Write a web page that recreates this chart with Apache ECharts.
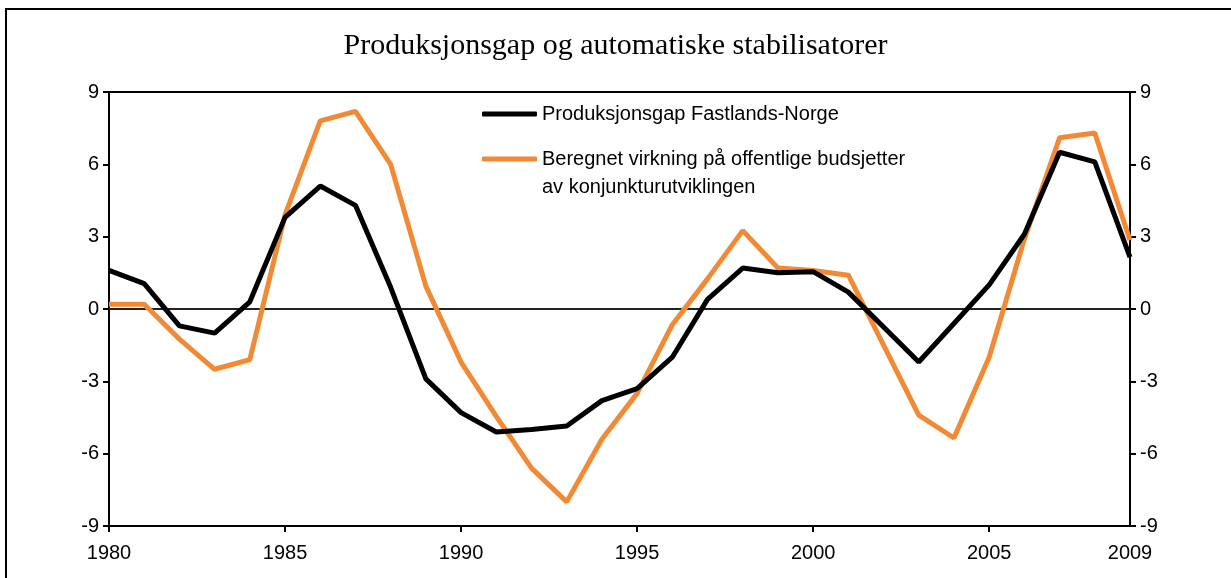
<!DOCTYPE html>
<html>
<head>
<meta charset="utf-8">
<script src="https://cdn.jsdelivr.net/npm/echarts@6/dist/echarts.min.js"></script>
<style>
  html, body { margin: 0; padding: 0; background: #fff; }
  #chart { width: 1231px; height: 578px; }
</style>
</head>
<body>
<div id="chart"></div>
<script>
// data
const years = [];
for (let y = 1980; y <= 2009; y++) years.push(String(y));

const produksjonsgap = [
  1.6, 1.05, -0.7, -1.0, 0.3, 3.8, 5.1, 4.3, 0.9, -2.9,
  -4.3, -5.1, -5.0, -4.85, -3.8, -3.3, -2.0, 0.4, 1.7, 1.5,
  1.55, 0.7, -0.75, -2.2, -0.6, 1.0, 3.1, 6.5, 6.1, 2.15
];
const virkning = [
  0.2, 0.2, -1.25, -2.5, -2.1, 3.9, 7.8, 8.2, 6.0, 0.95,
  -2.2, -4.45, -6.6, -8.0, -5.4, -3.5, -0.65, 1.25, 3.25, 1.7,
  1.6, 1.4, -1.5, -4.4, -5.35, -2.0, 2.9, 7.1, 7.3, 2.85
];
const yTicks = [-9, -6, -3, 0, 3, 6, 9];

const nameGap = "Produksjonsgap Fastlands-Norge";
const nameVirk = "Beregnet virkning på offentlige budsjetter";
const nameVirk2 = "av konjunkturutviklingen";

const orange = "#F28A35";
const font = "Liberation Sans, Arial, sans-serif";
const fs = 20;

const chart = echarts.init(document.getElementById("chart"));

const yAxisBase = {
  type: "value",
  min: yTicks[0],
  max: yTicks[yTicks.length - 1],
  interval: 3,
  axisLine: { show: true, lineStyle: { color: "#000", width: 2 } },
  axisTick: { show: true, length: 6, lineStyle: { color: "#000", width: 2 } },
  axisLabel: { color: "#000", fontSize: fs, fontFamily: font, margin: 10 },
  splitLine: { show: false }
};

const option = {
  backgroundColor: "#fff",
  animation: false,
  title: {
    text: "Produksjonsgap og automatiske stabilisatorer",
    left: "center",
    top: 26,
    textStyle: { fontFamily: "Liberation Serif, Times New Roman, serif", fontSize: 30, fontWeight: "normal", color: "#000" }
  },
  legend: [
    {
      data: [nameGap],
      left: 482, top: 104, padding: 0,
      icon: "roundRect", itemWidth: 55, itemHeight: 5,
      textStyle: { fontFamily: font, fontSize: fs, color: "#000" }
    },
    {
      data: [nameVirk],
      left: 482, top: 149, padding: 0,
      icon: "roundRect", itemWidth: 55, itemHeight: 5,
      textStyle: { fontFamily: font, fontSize: fs, color: "#000" }
    }
  ],
  graphic: [
    {
      type: "rect",
      shape: { x: 6, y: 9, width: 1240, height: 600 },
      style: { fill: null, stroke: "#000", lineWidth: 2 },
      silent: true
    },
    {
      type: "text",
      left: 542, top: 177,
      style: { text: nameVirk2, font: fs + "px " + font, fill: "#000" },
      silent: true
    }
  ],
  grid: {
    left: 109, right: 101, top: 92, bottom: 52,
    show: true, borderColor: "#000", borderWidth: 2, backgroundColor: "transparent"
  },
  xAxis: {
    type: "category",
    data: years,
    boundaryGap: false,
    axisLine: { onZero: false, lineStyle: { color: "#000", width: 2 } },
    axisTick: {
      length: 6,
      interval: (i) => i % 5 === 0,
      lineStyle: { color: "#000", width: 2 }
    },
    axisLabel: {
      interval: (i) => i % 5 === 0 || i === years.length - 1,
      color: "#000", fontSize: fs, fontFamily: font, margin: 17
    },
    splitLine: { show: false }
  },
  yAxis: [
    Object.assign({}, yAxisBase, { position: "left" }),
    Object.assign({}, yAxisBase, { position: "right" })
  ],
  series: [
    {
      name: nameGap,
      type: "line",
      data: produksjonsgap,
      symbol: "none",
      color: "#000",
      lineStyle: { width: 5, color: "#000" },
      z: 3,
      markLine: {
        silent: true,
        symbol: "none",
        label: { show: false },
        lineStyle: { color: "#222", width: 2, type: "solid" },
        data: [{ yAxis: 0 }],
        z: 1
      }
    },
    {
      name: nameVirk,
      type: "line",
      data: virkning,
      symbol: "none",
      color: orange,
      lineStyle: { width: 5, color: orange },
      z: 2
    }
  ]
};

chart.setOption(option);
</script>
</body>
</html>
